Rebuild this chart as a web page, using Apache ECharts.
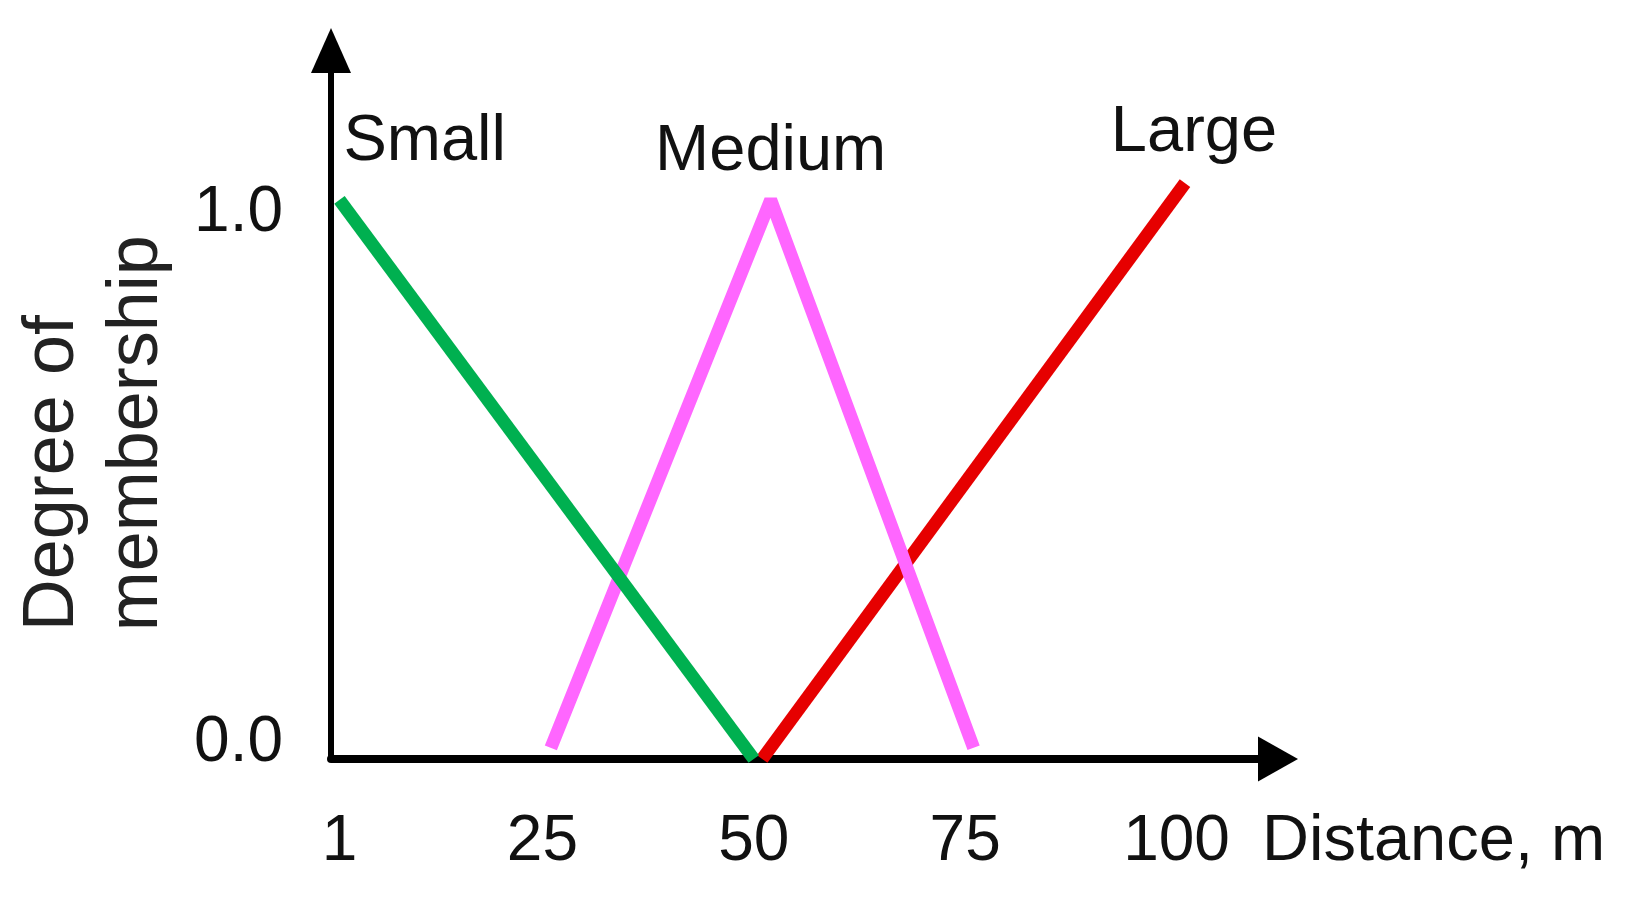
<!DOCTYPE html>
<html>
<head>
<meta charset="utf-8">
<script src="https://cdn.jsdelivr.net/npm/echarts@6.0.0/dist/echarts.min.js"></script>
<style>
  html, body { margin: 0; padding: 0; background: #fff; }
  #chart { width: 1630px; height: 903px; }
</style>
</head>
<body>
<div id="chart"></div>
<script>
// ---- data ----
const seriesNames = ['Small', 'Medium', 'Large'];
const smallX  = [1, 50];
const smallY  = [1.0, 0.0];
const mediumX = [26, 52, 76];
const mediumY = [0.02, 1.0, 0.02];
const largeX  = [51, 101];
const largeY  = [0.0, 1.03];
const xTickValues = [1, 25, 50, 75, 100];
const yTickValues = [0, 1];
const yTickLabels = ['0.0', '1.0'];
const xAxisName = 'Distance, m';
const yAxisNameLines = ['Degree of', 'membership'];

const FONT = "'Liberation Sans', Arial, sans-serif";

function zip(xs, ys) { return xs.map((x, i) => [x, ys[i]]); }

const colors = ['#00B050', '#FF66FF', '#E60000'];
const labelOffsets = [[4, -58], [0, -48], [9, -50]];
const labelAligns = ['left', 'center', 'center'];
const labelAnchors = [
  [smallX[0], smallY[0]],
  [mediumX[1], mediumY[1]],
  [largeX[largeX.length - 1], largeY[largeY.length - 1]]
];
const seriesData = [zip(smallX, smallY), zip(mediumX, mediumY), zip(largeX, largeY)];

const chart = echarts.init(document.getElementById('chart'), null, { renderer: 'canvas' });

const option = {
  animation: false,
  backgroundColor: '#ffffff',
  grid: {
    left: 331, right: 352, top: 50.5, bottom: 144,
    containLabel: false,
    outerBoundsMode: 'none'
  },
  xAxis: {
    type: 'value',
    min: 0, max: 112,
    name: '{s| }\n{a|' + xAxisName + '}',
    nameLocation: 'end',
    nameGap: -16,
    nameMoveOverlap: false,
    nameTextStyle: {
      fontFamily: FONT, fontSize: 65, color: '#111',
      align: 'left', verticalAlign: 'middle',
      rich: {
        s: { fontFamily: FONT, fontSize: 10, lineHeight: 166 },
        a: { fontFamily: FONT, fontSize: 65, lineHeight: 166, color: '#111' }
      }
    },
    axisLine: {
      show: true, onZero: false,
      symbol: ['none', 'triangle'],
      symbolSize: [45, 40],
      lineStyle: { color: '#000', width: 8 }
    },
    axisTick: { show: false },
    splitLine: { show: false },
    axisLabel: {
      customValues: xTickValues,
      margin: 51,
      fontFamily: FONT, fontSize: 64, color: '#111',
      formatter: v => String(v)
    }
  },
  yAxis: {
    type: 'value',
    min: 0, max: 1.267,
    name: yAxisNameLines.map(t => '{a|' + t + '}').join('\n'),
    nameLocation: 'middle',
    nameRotate: 90,
    nameGap: 152,
    nameMoveOverlap: false,
    nameTextStyle: {
      fontFamily: FONT, fontSize: 72, color: '#222', lineHeight: 84,
      padding: [0, 48, 0, 0],
      rich: { a: { width: 405, align: 'left', fontFamily: FONT, fontSize: 72, lineHeight: 84, color: '#222' } }
    },
    axisLine: {
      show: true, onZero: false,
      symbol: ['none', 'triangle'],
      symbolSize: [40, 45],
      lineStyle: { color: '#000', width: 6 }
    },
    axisTick: { show: false },
    splitLine: { show: false },
    axisLabel: {
      customValues: yTickValues,
      margin: 48,
      fontFamily: FONT, fontSize: 64, color: '#111',
      formatter: v => {
        const t = yTickLabels[yTickValues.indexOf(v)];
        return v === yTickValues[0] ? '{l|' + t + '}\n{l| }' : '{h| }\n{h|' + t + '}';
      },
      rich: {
        l: { fontFamily: FONT, fontSize: 64, lineHeight: 32, color: '#111' },
        h: { fontFamily: FONT, fontSize: 64, lineHeight: 28, color: '#111' }
      }
    }
  },
  series: seriesNames.map((name, i) => ({
    name: name,
    type: 'line',
    data: seriesData[i],
    symbol: 'none',
    lineStyle: { color: colors[i], width: 13, cap: 'butt', join: 'bevel' },
    itemStyle: { color: colors[i] },
    z: 3 - i,
    markPoint: {
      symbol: 'circle',
      symbolSize: 1,
      itemStyle: { color: 'rgba(0,0,0,0)' },
      label: {
        show: true,
        position: 'inside',
        formatter: name,
        align: labelAligns[i],
        verticalAlign: 'middle',
        offset: labelOffsets[i],
        fontFamily: FONT, fontSize: 65, color: '#111'
      },
      data: [{ name: name, coord: labelAnchors[i] }]
    }
  }))
};

chart.setOption(option);
</script>
</body>
</html>
